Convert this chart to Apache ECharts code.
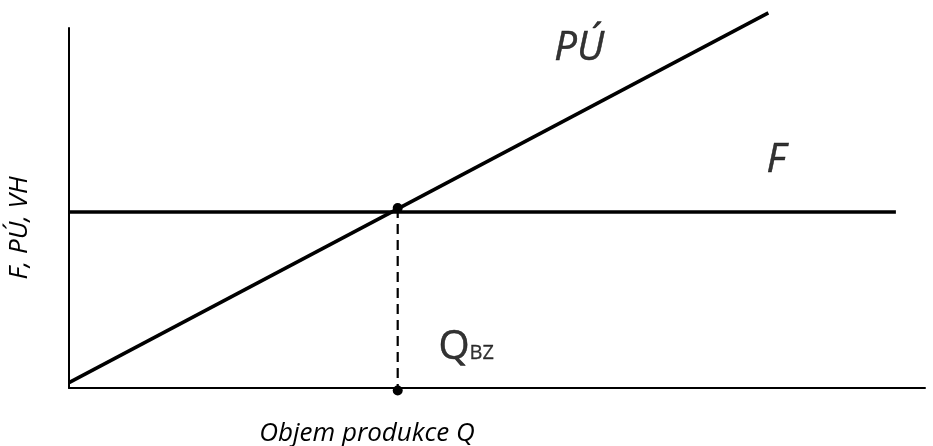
<!DOCTYPE html>
<html>
<head>
<meta charset="utf-8">
<script src="https://cdn.jsdelivr.net/npm/echarts@6/dist/echarts.min.js"></script>
<style>
  html, body { margin: 0; padding: 0; background: #fff; }
  #chart { width: 933px; height: 446px; }
</style>
</head>
<body>
<div id="chart"></div>
<script>
// data (axis units 0..100)
var revenueLine = [[0, 1.5], [81.7, 104.2]]   // PÚ
var fixedLine = [[0, 48.9], [96.6, 48.9]]     // F
var breakEven = [38.4, 50]                    // Q_BZ point
var breakEvenFoot = [38.4, -0.7]
var labelPU = [59.6, 94.2]
var labelF = [82.6, 63.2]
var labelQ = [46.4, 11.2]

var font = '"Open Sans", "Noto Sans", sans-serif'
var ink = { color: '#000', textBorderColor: '#000', textBorderWidth: 0.5 }

var chart = echarts.init(document.getElementById('chart'))
chart.setOption({
  animation: false,
  grid: { left: 69, right: 8, top: 28, bottom: 58, outerBoundsMode: 'none' },
  xAxis: {
    type: 'value',
    min: 0,
    max: 100,
    name: 'Objem produkce Q',
    nameLocation: 'middle',
    nameGap: 33,
    nameTextStyle: { fontFamily: font, fontStyle: 'italic', fontSize: 26, color: '#000', padding: [0, 0, 0, -260] },
    axisLine: { lineStyle: { color: '#000', width: 2 } },
    axisTick: { show: false },
    axisLabel: { show: false },
    splitLine: { show: false }
  },
  yAxis: {
    type: 'value',
    min: 0,
    max: 100,
    name: 'F, PÚ, VH',
    nameLocation: 'middle',
    nameGap: 36,
    nameTextStyle: { fontFamily: font, fontStyle: 'italic', fontSize: 26, color: '#000', padding: [0, 0, 0, -40] },
    axisLine: { show: true, lineStyle: { color: '#000', width: 2 } },
    axisTick: { show: false },
    axisLabel: { show: false },
    splitLine: { show: false }
  },
  series: [
    {
      name: 'PÚ',
      type: 'line',
      clip: false,
      symbol: 'none',
      lineStyle: { color: '#000', width: 3.5 },
      data: revenueLine
    },
    {
      name: 'F',
      type: 'line',
      symbol: 'none',
      lineStyle: { color: '#000', width: 3.5 },
      data: fixedLine
    },
    {
      name: 'QBZ',
      type: 'line',
      clip: false,
      symbol: 'circle',
      symbolSize: 10,
      itemStyle: { color: '#000' },
      lineStyle: { color: '#000', width: 2.2, type: [10, 6] },
      data: [breakEven, breakEvenFoot]
    },
    {
      name: 'labels',
      type: 'scatter',
      symbolSize: 0,
      clip: false,
      label: {
        show: true,
        position: 'inside',
        color: '#000',
        fontFamily: font,
        formatter: function (p) { return p.data.text }
      },
      data: [
        { value: labelPU, text: 'PÚ', label: Object.assign({ fontSize: 40, fontStyle: 'italic' }, ink) },
        { value: labelF, text: 'F', label: Object.assign({ fontSize: 40, fontStyle: 'italic' }, ink) },
        {
          value: labelQ,
          text: '{q|Q}{s|BZ}',
          label: {
            rich: {
              q: Object.assign({ fontFamily: font, fontSize: 40, verticalAlign: 'bottom' }, ink),
              s: Object.assign({ fontFamily: font, fontSize: 20, verticalAlign: 'bottom', padding: [0, 0, 4, 0] }, ink, { textBorderWidth: 0.3 })
            }
          }
        }
      ]
    }
  ]
})
</script>
</body>
</html>
